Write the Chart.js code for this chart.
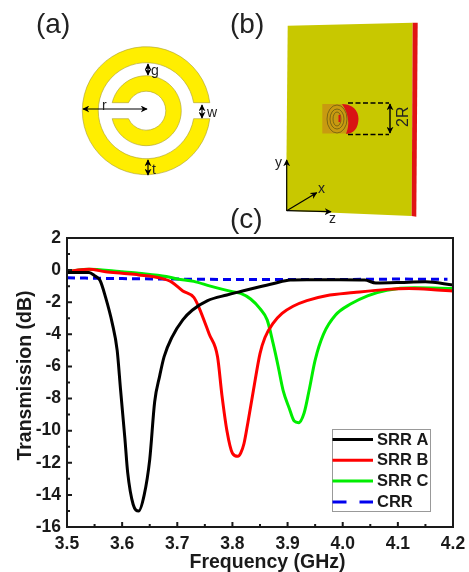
<!DOCTYPE html>
<html>
<head>
<meta charset="utf-8">
<title>SRR transmission</title>
<script src="https://cdn.jsdelivr.net/npm/chart.js@4"></script>
<style>
html, body { margin: 0; padding: 0; background: #fff; overflow: hidden; }
#wrap { position: relative; width: 469px; height: 572px; filter: blur(0.35px); }
#piece, #chart { position: absolute; left: 0; top: 0; }
text { font-family: "Liberation Sans", Arial, sans-serif; fill: #222; }
</style>
</head>
<body>
<div id="wrap">
<canvas id="chart" width="469" height="572"></canvas>
<svg id="piece" width="469" height="572" viewBox="0 0 469 572">
  <defs>
    <marker id="head" viewBox="0 0 10 10" refX="9" refY="5" markerWidth="7" markerHeight="7" markerUnits="userSpaceOnUse" orient="auto-start-reverse">
      <path d="M0 0 L10 5 L0 10 L3 5 Z" fill="#000"/>
    </marker>
  </defs>
  <text x="36" y="33" font-size="28">(a)</text>
  <text x="230" y="33" font-size="28">(b)</text>
  <text x="230" y="228" font-size="28">(c)</text>

  <!-- (a) split rings -->
  <g fill="#ffee00" stroke="#a89c30" stroke-width="0.6">
    <path d="M209.8 102.7 A64 64 0 1 0 209.8 118.7 L193.6 118.7 A48 48 0 1 1 193.6 102.7 Z"/>
    <path d="M112.2 102.7 A35 35 0 1 1 112.2 118.7 L128.5 118.7 A19.5 19.5 0 1 0 128.5 102.7 Z"/>
  </g>
  <g stroke="#000" stroke-width="1.2">
    <line x1="83" y1="109" x2="147" y2="109" marker-start="url(#head)" marker-end="url(#head)"/>
    <line x1="148" y1="64" x2="148" y2="75" marker-start="url(#head)" marker-end="url(#head)"/>
    <line x1="202" y1="105" x2="202" y2="118" marker-start="url(#head)" marker-end="url(#head)"/>
    <line x1="148" y1="160" x2="148" y2="175" marker-start="url(#head)" marker-end="url(#head)"/>
  </g>
  <text x="151" y="75" font-size="14">g</text>
  <text x="207" y="117" font-size="14">w</text>
  <text x="152" y="174" font-size="14">t</text>
  <text x="102" y="110" font-size="14">r</text>

  <!-- (b) slab -->
  <polygon points="287.7,25.7 412.7,22.7 411.7,216 286,210.7" fill="#c8c800"/>
  <polygon points="412.7,22.7 417.7,22.7 416.3,216.7 411.7,216" fill="#e01414"/>
  <rect x="322.3" y="104" width="26" height="29.5" fill="#c89a10"/>
  <path d="M342 104 Q358 105 358.5 119 Q358 133 346 134 Q352 119 342 104 Z" fill="#d81414"/>
  <g fill="none" stroke="#6a5a10" stroke-width="0.8">
    <ellipse cx="337" cy="119" rx="10" ry="14"/>
    <ellipse cx="337" cy="119" rx="7" ry="10"/>
    <ellipse cx="337" cy="119" rx="4" ry="7"/>
  </g>
  <rect x="338.5" y="115" width="2" height="7" fill="#d81414"/>
  <g stroke="#000" stroke-width="1.6" stroke-dasharray="5 2.5" fill="none">
    <line x1="348" y1="103" x2="389" y2="103"/>
    <line x1="348" y1="134.5" x2="389" y2="134.5"/>
  </g>
  <line x1="390" y1="104" x2="390" y2="133" stroke="#000" stroke-width="1.4" marker-start="url(#head)" marker-end="url(#head)"/>
  <text transform="translate(408 127) rotate(-90)" font-size="16">2R</text>
  <g stroke="#000" stroke-width="1.2">
    <line x1="286.7" y1="210.7" x2="286.7" y2="160" marker-end="url(#head)"/>
    <line x1="286.7" y1="210.7" x2="316.7" y2="192.7" marker-end="url(#head)"/>
    <line x1="286.7" y1="210.7" x2="331" y2="211.7" marker-end="url(#head)"/>
  </g>
  <text x="275" y="167" font-size="14">y</text>
  <text x="318" y="193" font-size="14">x</text>
  <text x="329" y="223" font-size="14">z</text>
</svg>
</div>
<script>
// values
const freqA = [3.5,3.52,3.54,3.55,3.56,3.57,3.582,3.591,3.597,3.605,3.61,3.62,3.63,3.64,3.65,3.659,3.668,3.676,3.69,3.71,3.727,3.755,3.79,3.815,3.844,3.875,3.905,3.935,3.995,4.04,4.06,4.12,4.15,4.2]
const lossA = [-0.15,-0.15,-0.15,-0.35,-0.65,-1.7,-3.3,-5,-7.4,-10.5,-12.6,-14.6,-15,-14,-11.8,-8.2,-6.6,-5.4,-4.2,-3.1,-2.5,-1.9,-1.55,-1.33,-1.08,-0.83,-0.62,-0.6,-0.6,-0.62,-0.8,-0.75,-0.73,-0.93]
const freqB = [3.5,3.52,3.54,3.57,3.6,3.63,3.67,3.69,3.71,3.73,3.739,3.758,3.773,3.781,3.79,3.8,3.81,3.815,3.821,3.828,3.838,3.85,3.859,3.874,3.89,3.91,3.935,3.97,4.02,4.08,4.12,4.16,4.2]
const lossB = [-0.1,0,0.05,-0.1,-0.2,-0.3,-0.5,-0.75,-1.3,-1.7,-2.3,-4,-5.4,-7.8,-10,-11.4,-11.6,-11.4,-10.8,-9.5,-7.5,-5.2,-4.2,-3.3,-2.7,-2.25,-1.9,-1.6,-1.4,-1.2,-1.15,-1.2,-1.3]
const freqC = [3.5,3.54,3.585,3.6,3.63,3.68,3.7,3.73,3.76,3.8,3.815,3.833,3.85,3.863,3.874,3.883,3.892,3.903,3.912,3.92,3.93,3.939,3.95,3.965,3.987,4.015,4.045,4.08,4.13,4.2]
const lossC = [-0.1,0.05,-0.05,-0.1,-0.2,-0.4,-0.55,-0.7,-1,-1.35,-1.45,-1.8,-2.4,-3.1,-4.6,-6,-7.5,-8.6,-9.4,-9.5,-8.9,-7.5,-5.6,-4,-2.8,-2.1,-1.6,-1.25,-1.1,-1.15]
const freqD = [3.5,3.6,3.7,3.8,3.9,4.0,4.1,4.19]
const lossD = [-0.48,-0.53,-0.56,-0.58,-0.58,-0.58,-0.56,-0.57]

const seriesNames = ["SRR A", "SRR B", "SRR C", "CRR"]
const xMajor = [3.5,3.6,3.7,3.8,3.9,4.0,4.1,4.2]
const xMinor = [3.55,3.65,3.75,3.85,3.95,4.05,4.15]
const yMajor = [2,0,-2,-4,-6,-8,-10,-12,-14,-16]
const yMinor = [1,-1,-3,-5,-7,-9,-11,-13,-15]
const xTitle = "Frequency (GHz)"
const yTitle = "Transmission (dB)"
const fontFamily = "'Liberation Sans', Arial, sans-serif"

function pts(xs, ys) {
    return xs.map((x, i) => ({x: x, y: ys[i]}))
}

// frame, inward ticks, axis titles and the boxed legend
const framePlugin = {
    id: "frame",
    afterDraw(chart) {
        const c = chart.ctx, a = chart.chartArea
        const sx = chart.scales.x, sy = chart.scales.y
        c.save()
        c.strokeStyle = "#1a1a1a"
        c.lineWidth = 2
        c.strokeRect(a.left, a.top, a.right - a.left, a.bottom - a.top)
        c.beginPath()
        xMajor.forEach(v => { let p = sx.getPixelForValue(v); c.moveTo(p, a.bottom); c.lineTo(p, a.bottom - 5) })
        xMinor.forEach(v => { let p = sx.getPixelForValue(v); c.moveTo(p, a.bottom); c.lineTo(p, a.bottom - 3) })
        yMajor.forEach(v => { let p = sy.getPixelForValue(v); c.moveTo(a.left, p); c.lineTo(a.left + 5, p) })
        yMinor.forEach(v => { let p = sy.getPixelForValue(v); c.moveTo(a.left, p); c.lineTo(a.left + 3, p) })
        c.stroke()

        c.fillStyle = "#1a1a1a"
        c.font = "bold 19.5px " + fontFamily
        c.textAlign = "center"
        c.textBaseline = "alphabetic"
        c.fillText(xTitle, 267.5, 568)
        c.save()
        c.translate(31, 375.5)
        c.rotate(-Math.PI / 2)
        c.fillText(yTitle, 0, 0)
        c.restore()

        c.fillStyle = "#fff"
        c.fillRect(332.5, 429.5, 98, 82)
        c.strokeStyle = "#999"
        c.lineWidth = 1
        c.strokeRect(332.5, 429.5, 98, 82)
        c.font = "bold 16.5px " + fontFamily
        c.textAlign = "left"
        c.textBaseline = "middle"
        chart.data.datasets.forEach((d, i) => {
            let y = 439.5 + i * 20.8
            c.beginPath()
            c.strokeStyle = d.borderColor
            c.lineWidth = 3
            c.setLineDash(d.borderDash ? [14, 13] : [])
            c.moveTo(332.5, y)
            c.lineTo(373, y)
            c.stroke()
            c.setLineDash([])
            c.fillStyle = "#1a1a1a"
            c.fillText(d.label, 377, y + 0.5)
        })
        c.restore()
    }
}

new Chart(document.getElementById("chart"), {
    type: "line",
    data: {
        datasets: [
            {label: seriesNames[0], data: pts(freqA, lossA), borderColor: "#000000"},
            {label: seriesNames[1], data: pts(freqB, lossB), borderColor: "#ff0000"},
            {label: seriesNames[2], data: pts(freqC, lossC), borderColor: "#00ee00"},
            {label: seriesNames[3], data: pts(freqD, lossD), borderColor: "#0000ee", borderDash: [8, 5]}
        ].map(d => Object.assign(d, {borderWidth: 3, pointRadius: 0, fill: false, cubicInterpolationMode: "monotone"}))
    },
    plugins: [framePlugin],
    options: {
        responsive: false,
        animation: false,
        layout: {padding: {left: 0, right: 16, top: 238, bottom: 0}},
        plugins: {legend: {display: false}, tooltip: {enabled: false}},
        scales: {
            x: {
                type: "linear",
                min: 3.5,
                max: 4.2,
                grid: {display: false, drawTicks: false},
                border: {display: false},
                afterBuildTicks: s => { s.ticks = xMajor.map(v => ({value: v})) },
                afterFit: s => { s.height = 45; s.paddingLeft = 0; s.paddingRight = 0 },
                ticks: {
                    padding: 7,
                    maxRotation: 0,
                    color: "#1a1a1a",
                    font: {family: fontFamily, size: 17.5, weight: "bold"},
                    callback: v => Number(v).toFixed(1)
                }
            },
            y: {
                min: -16,
                max: 2,
                grid: {display: false, drawTicks: false},
                border: {display: false},
                afterBuildTicks: s => { s.ticks = yMajor.map(v => ({value: v})) },
                afterFit: s => { s.width = 67; s.paddingTop = 0; s.paddingBottom = 0 },
                ticks: {
                    padding: 6,
                    color: "#1a1a1a",
                    font: {family: fontFamily, size: 17.5, weight: "bold"}
                }
            }
        }
    }
})
</script>
</body>
</html>
